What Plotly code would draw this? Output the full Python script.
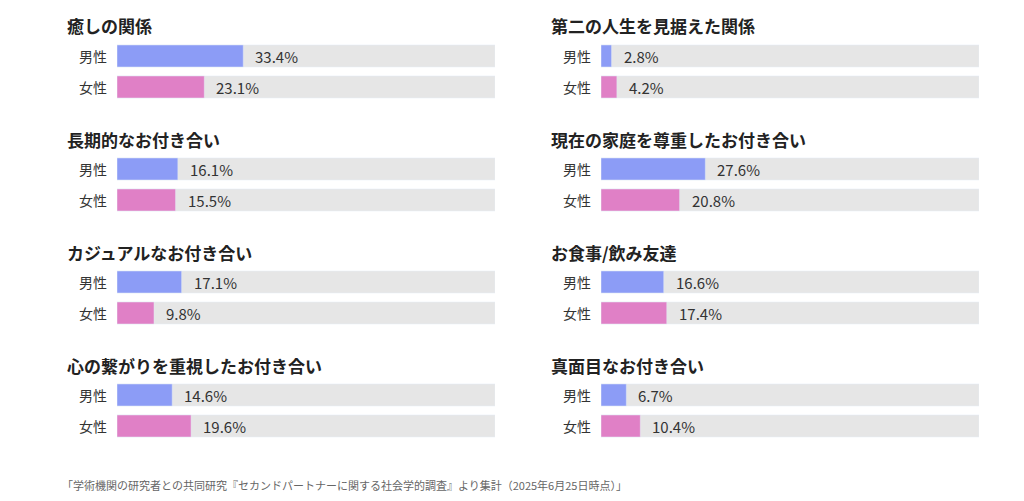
import plotly.graph_objects as go

titles = ["癒しの関係", "長期的なお付き合い", "カジュアルなお付き合い", "心の繋がりを重視したお付き合い",
          "第二の人生を見据えた関係", "現在の家庭を尊重したお付き合い", "お食事/飲み友達", "真面目なお付き合い"]
male = [33.4, 16.1, 17.1, 14.6, 2.8, 27.6, 16.6, 6.7]
female = [23.1, 15.5, 9.8, 19.6, 4.2, 20.8, 17.4, 10.4]
genders = ["男性", "女性"]

W, H = 1024, 501
OFF = 8  # page offset
FONT = "Noto Sans CJK JP"
fig = go.Figure()
annotations = []

for i, t in enumerate(titles):
    col, row = i // 4, i % 4
    n = i + 1
    xa = "x" if n == 1 else f"x{n}"
    ya = "y" if n == 1 else f"y{n}"
    x0 = (117 if col == 0 else 601) - OFF
    top = 40.5 + row * 113 - OFF
    vals = [male[i], female[i]]
    fig.add_trace(go.Bar(x=[100, 100], y=genders, orientation="h", marker_color="#e6e6e6",
                         width=0.71, xaxis=xa, yaxis=ya, hoverinfo="skip", showlegend=False))
    fig.add_trace(go.Bar(x=vals, y=genders, orientation="h", marker_color=["#8c9cf6", "#e080c6"],
                         width=0.71, xaxis=xa, yaxis=ya, showlegend=False))
    fig.layout[f"xaxis{'' if n == 1 else n}"] = dict(
        domain=[x0 / W, (x0 + 378) / W], range=[0, 100], visible=False, anchor=ya, fixedrange=True)
    fig.layout[f"yaxis{'' if n == 1 else n}"] = dict(
        domain=[1 - (top + 62) / H, 1 - top / H], range=[1.5, -0.5], visible=False,
        anchor=xa, type="category", categoryorder="array", categoryarray=genders)
    annotations.append(dict(text=f"<b>{t}</b>", x=(x0 - 52) / W, y=1 - (26 + row * 113 - OFF) / H,
                            xref="paper", yref="paper", xanchor="left", yanchor="middle",
                            showarrow=False, font=dict(size=17, color="#222", family=FONT)))
    for g, v in zip(genders, vals):
        annotations.append(dict(text=g, x=0, y=g, xref=xa, yref=ya, xanchor="right", xshift=-8,
                                showarrow=False, font=dict(size=14, color="#333", family=FONT)))
        annotations.append(dict(text=f"{v}%", x=v, y=g, xref=xa, yref=ya, xanchor="left", xshift=10,
                                showarrow=False, font=dict(size=15, color="#333", family=FONT)))

annotations.append(dict(text="「学術機関の研究者との共同研究『セカンドパートナーに関する社会学的調査』より集計（2025年6月25日時点）」",
                        x=(60 - OFF) / W, y=1 - (485 - OFF) / H, xref="paper", yref="paper", xanchor="left",
                        yanchor="middle", showarrow=False, font=dict(size=11, color="#666", family=FONT)))

fig.update_layout(width=W, height=H, margin=dict(l=0, r=0, t=0, b=0), barmode="overlay",
                  plot_bgcolor="white", paper_bgcolor="white", annotations=annotations)
fig.write_html("out.html")
